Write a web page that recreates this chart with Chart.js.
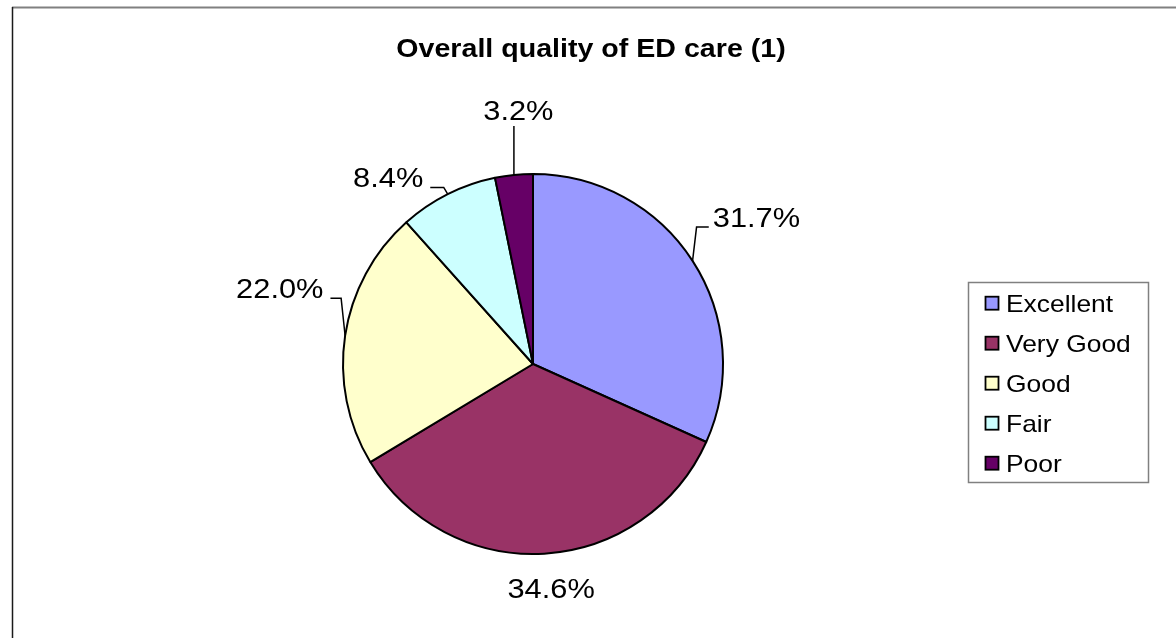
<!DOCTYPE html>
<html>
<head>
<meta charset="utf-8">
<script src="https://cdn.jsdelivr.net/npm/chart.js@4/dist/chart.umd.min.js"></script>
<style>
  html, body { margin: 0; padding: 0; background: #fff; }
  #wrap { width: 1176px; height: 638px; }
</style>
</head>
<body>
<div id="wrap"><canvas id="c" width="1176" height="638"></canvas></div>
<script>
const titleText = 'Overall quality of ED care (1)';
const categories = ['Excellent', 'Very Good', 'Good', 'Fair', 'Poor'];
const values = [31.7, 34.6, 22.0, 8.4, 3.2];

const FONT = '"Liberation Sans", Arial, Helvetica, sans-serif';
const STRETCH = 1.1;

function drawText(ctx, text, x, y, align, font) {
  ctx.save();
  ctx.font = font;
  ctx.fillStyle = '#000';
  ctx.textAlign = align;
  ctx.textBaseline = 'alphabetic';
  ctx.translate(x, y);
  ctx.scale(STRETCH, 1);
  ctx.fillText(text, 0, 0);
  ctx.restore();
}
function textWidth(ctx, text, font) {
  ctx.save();
  ctx.font = font;
  const w = ctx.measureText(text).width * STRETCH;
  ctx.restore();
  return w;
}

const decorPlugin = {
  id: 'decor',
  beforeDraw(chart) {
    const ctx = chart.ctx;
    ctx.save();
    ctx.fillStyle = '#fff';
    ctx.fillRect(0, 0, chart.width, chart.height);
    ctx.strokeStyle = '#808080';
    ctx.lineWidth = 2;
    ctx.beginPath();
    ctx.moveTo(12, 7.5);
    ctx.lineTo(chart.width, 7.5);
    ctx.stroke();
    ctx.strokeStyle = '#1a1a1a';
    ctx.lineWidth = 1.5;
    ctx.beginPath();
    ctx.moveTo(12.5, 7);
    ctx.lineTo(12.5, chart.height);
    ctx.stroke();
    ctx.restore();
    drawText(ctx, titleText, 591, 57, 'center', 'bold 26px ' + FONT);
  },
  afterDatasetsDraw(chart, args, opts) {
    const ctx = chart.ctx;
    const meta = chart.getDatasetMeta(0);
    const ds = chart.data.datasets[0];
    const labelFont = '28px ' + FONT;
    const capH = 20;
    meta.data.forEach((arc, i) => {
      const p = arc.getProps(['x', 'y', 'startAngle', 'endAngle', 'outerRadius'], true);
      const mid = (p.startAngle + p.endAngle) / 2;
      const ux = Math.cos(mid), uy = Math.sin(mid);
      const E = { x: p.x + ux * p.outerRadius, y: p.y + uy * p.outerRadius };
      const R = p.outerRadius + 30;
      const nudge = opts.nudge[i] || [0, 0];
      let ax = p.x + ux * R + nudge[0];
      const base = p.y + uy * R + capH / 2 + nudge[1];
      const txt = ds.data[i].toFixed(1) + '%';
      const w = textWidth(ctx, txt, labelFont);
      let align = 'center', left, right;
      if (ux > 0.3) { align = 'left'; left = ax; right = ax + w; }
      else if (ux < -0.3) { align = 'right'; right = ax; left = ax - w; }
      else { left = ax - w / 2; right = ax + w / 2; }
      drawText(ctx, txt, ax, base, align, labelFont);

      ctx.save();
      ctx.strokeStyle = '#000';
      ctx.lineWidth = 1.5;
      ctx.beginPath();
      let draw = false;
      if (align === 'center') {
        if (uy < 0) {
          const endY = base + 6;
          if (E.y - endY > 30) { ctx.moveTo(E.x, E.y); ctx.lineTo(E.x, endY); draw = true; }
        } else {
          const topY = base - capH - 4;
          if (topY - E.y > 30) { ctx.moveTo(E.x, E.y); ctx.lineTo(E.x, topY); draw = true; }
        }
      } else if (align === 'left') {
        ctx.moveTo(E.x, E.y);
        ctx.lineTo(E.x + 4, base);
        ctx.lineTo(left - 4, base);
        draw = true;
      } else {
        ctx.moveTo(E.x, E.y);
        ctx.lineTo(E.x - 4, base);
        ctx.lineTo(right + 7, base);
        draw = true;
      }
      if (draw) ctx.stroke();
      ctx.restore();
    });
  },
  afterDraw(chart) {
    const ctx = chart.ctx;
    const ds = chart.data.datasets[0];
    const bx = 968, by = 282, bw = 180, bh = 200;
    ctx.save();
    ctx.strokeStyle = '#808080';
    ctx.lineWidth = 1.5;
    ctx.strokeRect(bx + 0.5, by + 0.5, bw, bh);
    ctx.restore();
    const legendFont = '24px ' + FONT;
    chart.data.labels.forEach((lab, i) => {
      const baseY = by + 29.7 + i * 40;
      ctx.save();
      ctx.fillStyle = ds.backgroundColor[i];
      ctx.fillRect(985.5, baseY - 15, 13, 13);
      ctx.strokeStyle = '#000';
      ctx.lineWidth = 1.8;
      ctx.strokeRect(985.5, baseY - 15, 13, 13);
      ctx.restore();
      drawText(ctx, lab, 1006, baseY, 'left', legendFont);
    });
  }
};

new Chart(document.getElementById('c'), {
  type: 'pie',
  data: {
    labels: categories,
    datasets: [{
      data: values,
      backgroundColor: ['#9999FF', '#993366', '#FFFFCC', '#CCFFFF', '#660066'],
      borderColor: '#000000',
      borderWidth: 2,
      radius: 190
    }]
  },
  options: {
    responsive: false,
    animation: false,
    layout: { padding: { left: 100, right: 210, top: 130, bottom: 40 } },
    plugins: {
      legend: { display: false },
      title: { display: false },
      tooltip: { enabled: false },
      decor: { nudge: [[-5, -27.5], [5, 4.5], [8, -43], [-11, 10], [7.5, -35]] }
    }
  },
  plugins: [decorPlugin]
});
</script>
</body>
</html>
